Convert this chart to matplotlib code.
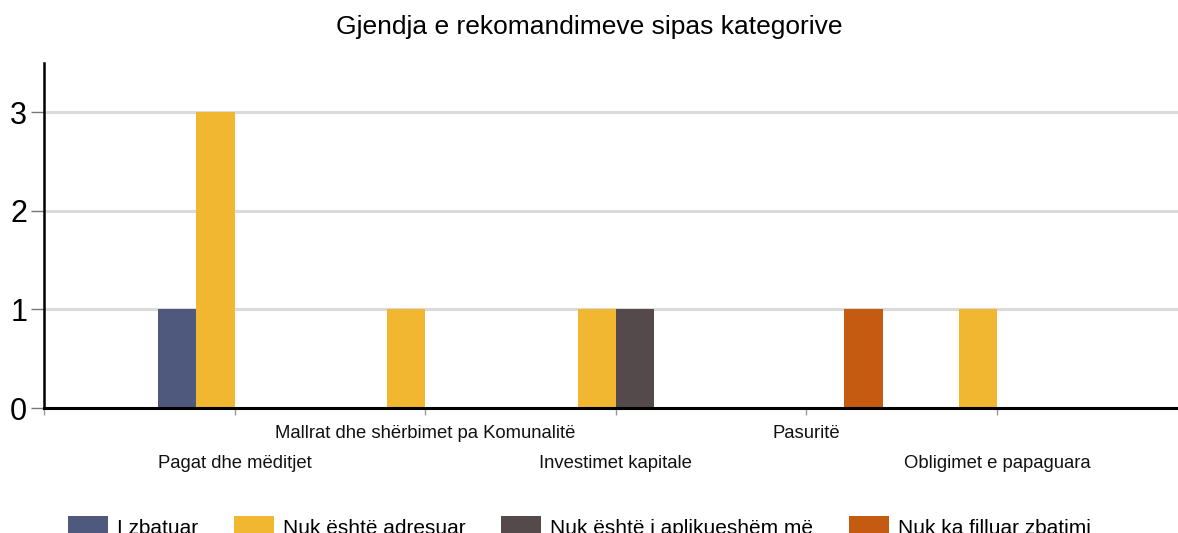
import numpy as np
import matplotlib
matplotlib.use("Agg")
import matplotlib.pyplot as plt

plt.rcParams["font.family"] = ["Liberation Sans", "DejaVu Sans"]

categories = [
    "Pagat dhe mëditjet",
    "Mallrat dhe shërbimet pa Komunalitë",
    "Investimet kapitale",
    "Pasuritë",
    "Obligimet e papaguara",
]
series_names = [
    "I zbatuar",
    "Nuk është adresuar",
    "Nuk është i aplikueshëm më",
    "Nuk ka filluar zbatimi",
]
i_zbatuar = [1, 0, 0, 0, 0]
nuk_adresuar = [3, 1, 1, 0, 1]
nuk_aplikueshem = [0, 0, 1, 0, 0]
nuk_filluar = [0, 0, 0, 1, 0]
colors = ["#4F597D", "#F1B731", "#544A4B", "#C55A11"]

W, H = 1178, 533
fig = plt.figure(figsize=(W / 100, H / 100), dpi=100)
ax = fig.add_axes([44 / W, 1 - 408 / H, (1178 - 44) / W, (408 - 63) / H])

x = np.arange(len(categories))
width = 0.2
values = [i_zbatuar, nuk_adresuar, nuk_aplikueshem, nuk_filluar]
offsets = [-0.3, -0.1, 0.1, 0.3]
for vals, off, col, name in zip(values, offsets, colors, series_names):
    ax.bar(x + off, vals, width, color=col, label=name, zorder=3)

ax.set_xlim(-1, 4.95)
ax.set_ylim(0, 3.5)

ax.set_yticks([0, 1, 2, 3])
ax.tick_params(axis="y", length=9.5, width=1, color="#777777", labelsize=22, pad=2.5)
ax.set_xticks(np.arange(-1, 5))
ax.set_xticklabels([])
ax.tick_params(axis="x", length=5, width=1, color="#999999")

for yv in [1, 2, 3]:
    ax.axhline(yv, color="#DADADA", lw=2.2, zorder=1)

for s in ["top", "right"]:
    ax.spines[s].set_visible(False)
ax.spines["left"].set_linewidth(1.8)
ax.spines["bottom"].set_linewidth(2.2)
ax.spines["left"].set_zorder(4)
ax.spines["bottom"].set_zorder(4)

# staggered category labels
trans = ax.get_xaxis_transform()
for i, lab in enumerate(categories):
    ypix = 463 if i % 2 == 0 else 434
    ax.text(i, (408 - ypix) / 345, lab, transform=trans, ha="center", va="center",
            fontsize=13.3, color="#111111", clip_on=False)

fig.text(0.5, 1 - 27 / H, "Gjendja e rekomandimeve sipas kategorive",
         ha="center", va="center", fontsize=19)

fig.legend(loc="center left", bbox_to_anchor=(68 / W, 1 - 527 / H), ncol=4,
           frameon=False, fontsize=15, handlelength=1.92, handleheight=1.1,
           handletextpad=0.43, columnspacing=1.72, borderpad=0, borderaxespad=0)

fig.savefig("out.png", dpi=100)
